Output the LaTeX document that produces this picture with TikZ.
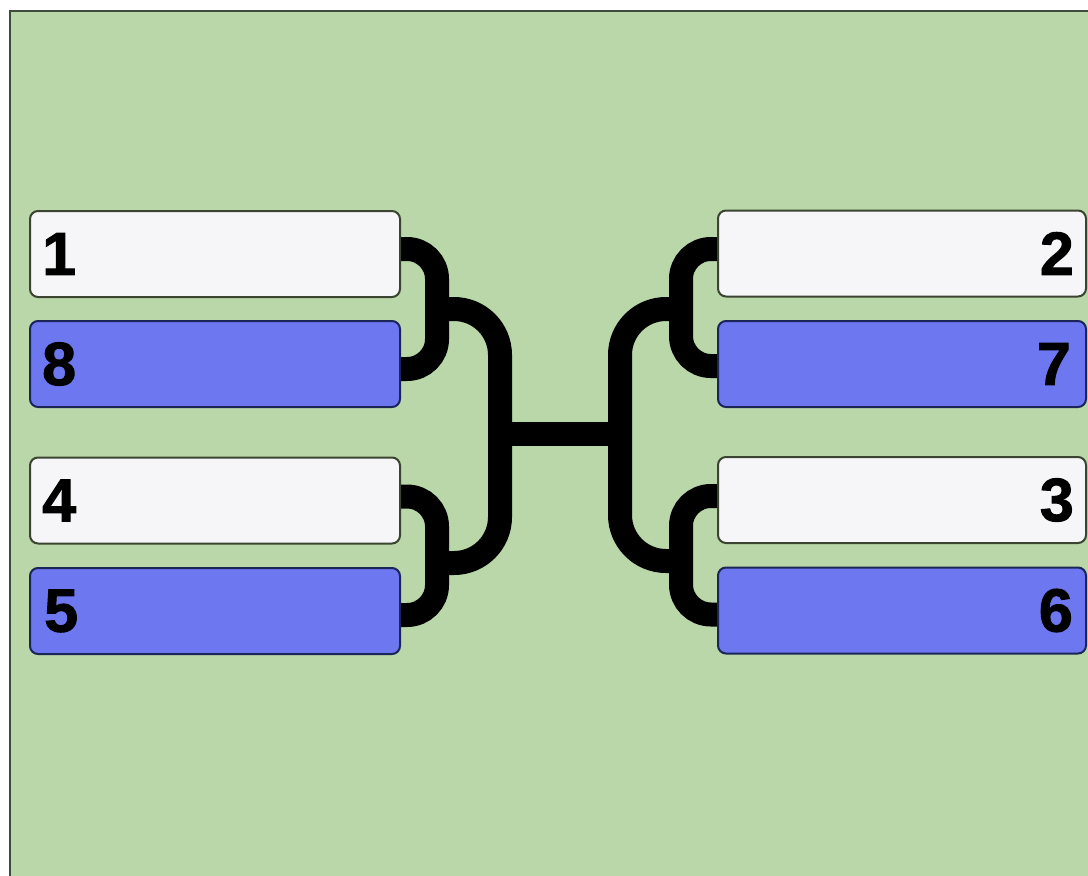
\documentclass[tikz,border=0pt]{standalone}
\usepackage{fontspec}
\setmainfont{Liberation Sans}
\newfontfamily\seedfont[FakeBold=1.6]{Liberation Sans Bold}
\definecolor{bggreen}{HTML}{B9D7A8}
\definecolor{framecol}{HTML}{3E4C3C}
\definecolor{boxwhite}{HTML}{F6F6F8}
\definecolor{boxblue}{HTML}{6D77EF}
\definecolor{wborder}{HTML}{3A4430}
\definecolor{bborder}{HTML}{1C2558}
\pgfdeclarelayer{bglayer}
\pgfdeclarelayer{connlayer}
\pgfsetlayers{bglayer,connlayer,main}
\tikzset{
  wbox/.style={draw=wborder, fill=boxwhite, line width=2pt, rounded corners=8pt,
    minimum height=86pt, inner sep=0pt},
  bbox/.style={draw=bborder, fill=boxblue, line width=2pt, rounded corners=8pt,
    minimum height=86pt, inner sep=0pt},
  lbox/.style={minimum width=370pt},
  rbox/.style={minimum width=368pt},
  seed/.style={font=\seedfont\fontsize{61}{61}\selectfont, text=black, inner sep=0pt},
  conn/.style={line width=24pt, black},
}
\begin{document}
\begin{tikzpicture}[x=1pt,y=-1pt]
\useasboundingbox (0,0) rectangle (1088,876);
\begin{pgfonlayer}{bglayer}
\clip (0,0) rectangle (1088,876);
\fill[white] (0,0) rectangle (1088,876);
\draw[framecol, fill=bggreen, line width=2.5pt] (10,11) rectangle (1120,900);
\end{pgfonlayer}

% boxes
\node[wbox,lbox] (b1) at (215,254) {};
\node[bbox,lbox] (b8) at (215,364) {};
\node[wbox,lbox] (b4) at (215,500.5) {};
\node[bbox,lbox] (b5) at (215,611) {};
\node[wbox,rbox] (b2) at (902,253.5) {};
\node[bbox,rbox] (b7) at (902,364) {};
\node[wbox,rbox] (b3) at (902,500) {};
\node[bbox,rbox] (b6) at (902,610.5) {};

% seed numbers
\node[seed, anchor=west] (n1) at ([xshift=13pt]b1.west) {1};
\node[seed, anchor=west] (n8) at ([xshift=13pt]b8.west) {8};
\node[seed, anchor=west] (n4) at ([xshift=13pt]b4.west) {4};
\node[seed, anchor=west] (n5) at ([xshift=15pt]b5.west) {5};
\node[seed, anchor=east] (n2) at ([xshift=-13pt]b2.east) {2};
\node[seed, anchor=east] (n7) at ([xshift=-16pt]b7.east) {7};
\node[seed, anchor=east] (n3) at ([xshift=-13pt]b3.east) {3};
\node[seed, anchor=east] (n6) at ([xshift=-14pt]b6.east) {6};

% bracket joints
\coordinate (m1) at (436,309);
\coordinate (m2) at (436,563);
\coordinate (m3) at (682,309);
\coordinate (m4) at (682,561);
\coordinate (c1) at (500,434);
\coordinate (c2) at (620,434);

\begin{pgfonlayer}{connlayer}
\draw[conn, rounded corners=30pt] ([yshift=5pt]b1.east) -- ++(36,0) |- ([yshift=-5pt]b8.east);
\draw[conn, rounded corners=30pt] ([yshift=4pt]b4.east) -- ++(36,0) |- ([yshift=-4pt]b5.east);
\draw[conn, rounded corners=30pt] ([yshift=4.5pt]b2.west) -- ++(-36,0) |- ([yshift=-2pt]b7.west);
\draw[conn, rounded corners=30pt] ([yshift=4pt]b3.west) -- ++(-36,0) |- ([yshift=-4pt]b6.west);
\draw[conn, rounded corners=46pt] (m1) -| (c1) |- (m2);
\draw[conn, rounded corners=46pt] (m3) -| (c2) |- (m4);
\draw[conn] (c1) -- (c2);
\end{pgfonlayer}
\end{tikzpicture}
\end{document}
